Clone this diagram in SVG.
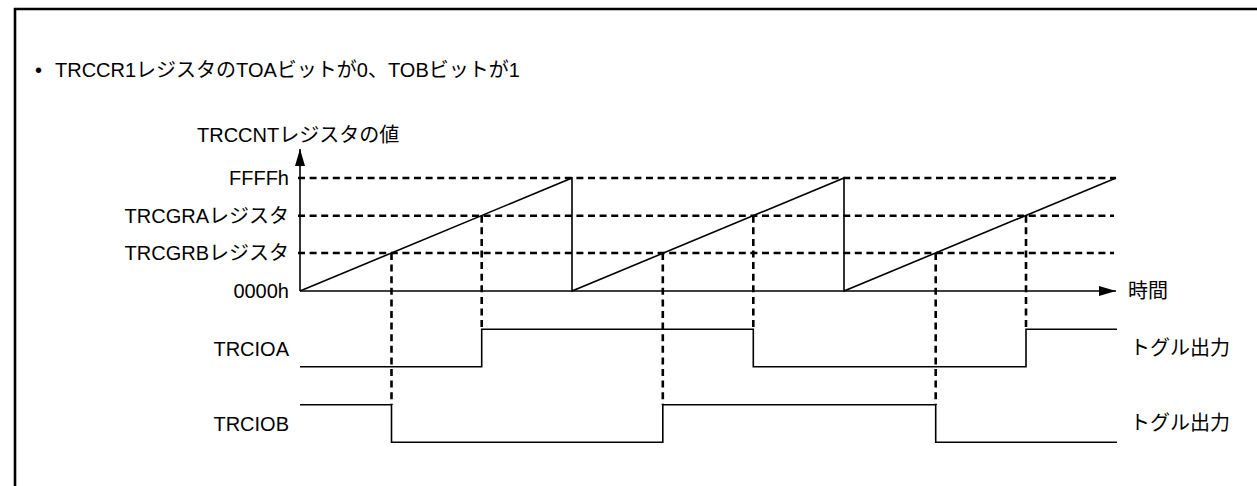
<svg xmlns="http://www.w3.org/2000/svg" width="1257" height="486" viewBox="0 0 1257 486">
  <defs>
    <style>
      text { font-family: "Liberation Sans", Arial, "Noto Sans CJK JP", sans-serif; font-size: 20px; fill: #000; }
      .r { text-anchor: end; }
      .solid { fill: none; stroke: #000; stroke-width: 1.6; }
      .dash { fill: none; stroke: #000; stroke-width: 2.6; stroke-dasharray: 7 4.6; }
      .frame { fill: none; stroke: #000; stroke-width: 2.6; }
    </style>
    <marker id="arrow" viewBox="0 0 17 10" refX="17" refY="5" markerWidth="17" markerHeight="10" markerUnits="userSpaceOnUse" orient="auto">
      <path d="M0 0 L17 5 L0 10 Z" fill="#000"/>
    </marker>
  </defs>
  <rect width="1257" height="486" fill="#fff"/>
  <path class="frame" d="M15 490 V9 H1260"/>

  <g id="title">
    <text x="35" y="77">•</text>
    <text x="55" y="77">TRCCR1レジスタのTOAビットが0、TOBビットが1</text>
  </g>

  <g id="labels">
    <text x="197" y="142">TRCCNTレジスタの値</text>
    <text class="r" x="289" y="185">FFFFh</text>
    <text class="r" x="289" y="222.5">TRCGRAレジスタ</text>
    <text class="r" x="289" y="260">TRCGRBレジスタ</text>
    <text class="r" x="289" y="297.5">0000h</text>
    <text class="r" x="289" y="355.5">TRCIOA</text>
    <text class="r" x="289" y="430.5">TRCIOB</text>
    <text x="1128" y="297.5">時間</text>
    <text x="1130" y="355">トグル出力</text>
    <text x="1130" y="430">トグル出力</text>
  </g>

  <g id="connectors">
    <!-- reference dashed levels -->
    <path class="dash" d="M298 178 H1116"/>
    <path class="dash" d="M298 215.7 H1114"/>
    <path class="dash" d="M298 253 H1114"/>
    <!-- vertical dashed guides -->
    <path class="dash" d="M391.5 253 V404.7"/>
    <path class="dash" d="M481.7 215.7 V329.3"/>
    <path class="dash" d="M662.8 253 V404.7"/>
    <path class="dash" d="M753.3 215.7 V329.3"/>
    <path class="dash" d="M935.7 253 V404.7"/>
    <path class="dash" d="M1026 215.7 V329.3"/>
    <!-- axes -->
    <path class="solid" d="M300 291 V149" marker-end="url(#arrow)"/>
    <path class="solid" d="M300 291 H1116" marker-end="url(#arrow)"/>
    <!-- counter sawtooth -->
    <path class="solid" d="M300 291 L572 178 V291 L844 178 V291 L1116 178"/>
    <!-- outputs -->
    <path class="solid" d="M300 366.7 H481.7 V329.3 H753.3 V366.7 H1026 V329.3 H1117"/>
    <path class="solid" d="M300 404.7 H391.5 V442.3 H662.8 V404.7 H935.7 V442.3 H1117"/>
  </g>
</svg>
